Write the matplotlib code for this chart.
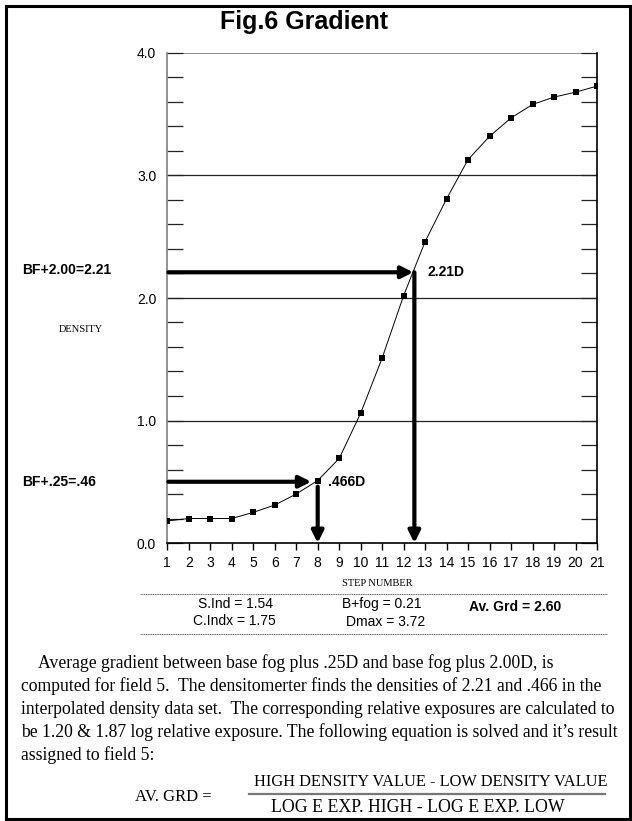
import matplotlib
matplotlib.use("Agg")
import matplotlib.pyplot as plt
from matplotlib.lines import Line2D

# ---------------- data ----------------
steps = list(range(1, 22))
density = [0.18, 0.20, 0.20, 0.20, 0.25, 0.31, 0.40, 0.51, 0.69, 1.06,
           1.51, 2.02, 2.46, 2.81, 3.13, 3.32, 3.47, 3.58, 3.64, 3.68, 3.73]
x_ticks = list(range(1, 22))
y_major = [0.0, 1.0, 2.0, 3.0, 4.0]
y_labels = ["0.0", "1.0", "2.0", "3.0", "4.0"]
high_density = 2.21
high_step = 12.5
low_density = 0.50
low_step = 8.0
summary = {"S.Ind": "1.54", "C.Indx": "1.75", "B+fog": "0.21", "Dmax": "3.72", "Av. Grd": "2.60"}

W, H = 632, 821
fig = plt.figure(figsize=(W / 100, H / 100), dpi=100)

def fx(px):
    return px / W

def fy(py):
    return 1 - py / H

SANS = "Liberation Sans"
SERIF = "Liberation Serif"

# ---------------- axes ----------------
ax_l, ax_r, ax_t, ax_b = 167.3, 597.0, 53.0, 543.0
ax = fig.add_axes([fx(ax_l), fy(ax_b), (ax_r - ax_l) / W, (ax_b - ax_t) / H])
ax.set_xlim(1, 21)
ax.set_ylim(0, 4)

for v in y_major[1:4]:
    ax.axhline(v, color="#222222", lw=0.9, zorder=1)
ax.axhline(4.0, color="#777777", lw=1.2, zorder=1)

ax.spines["top"].set_visible(False)
ax.spines["left"].set_color("#888888")
ax.spines["left"].set_linewidth(1.3)
ax.spines["right"].set_color("black")
ax.spines["right"].set_linewidth(1.2)
ax.spines["bottom"].set_color("black")
ax.spines["bottom"].set_linewidth(1.2)

ax.set_yticks(y_major)
ax.set_yticklabels(y_labels, fontfamily=SANS, fontsize=10)
ax.set_yticks([i * 0.2 for i in range(21) if i % 5 != 0], minor=True)
ax.tick_params(axis="y", which="both", direction="in", length=11.5, width=0.9,
               left=True, right=True, color="#222222", pad=8)
ax.set_xticks(x_ticks)
ax.set_xticklabels([str(s) for s in x_ticks], fontfamily=SANS, fontsize=10)
ax.tick_params(axis="x", which="major", direction="out", length=5, width=1.0, pad=4)

# curve + markers
ax.plot(steps, density, color="black", lw=0.7, zorder=3,
        marker="s", markersize=4.6, markerfacecolor="black", markeredgewidth=0)

def harrow(y, x_end):
    ax.annotate("", xy=(x_end, y), xytext=(1.05, y),
                arrowprops=dict(arrowstyle="-|>,head_length=0.7,head_width=0.35",
                                lw=3.0, color="black", shrinkA=0, shrinkB=0),
                zorder=4)

def varrow(x, y_top):
    ax.annotate("", xy=(x, 0.0), xytext=(x, y_top),
                arrowprops=dict(arrowstyle="-|>,head_length=0.7,head_width=0.35",
                                lw=3.0, color="black", shrinkA=0, shrinkB=0),
                zorder=4)

harrow(high_density, high_step - 0.05)
varrow(high_step, high_density)
harrow(low_density, low_step - 0.3)
varrow(low_step, low_density - 0.04)

ax.text(high_step + 0.6, high_density, f"{high_density:.2f}D", fontfamily=SANS,
        fontweight="bold", fontsize=10, va="center", ha="left")
ax.text(low_step + 0.5, low_density, ".466D", fontfamily=SANS,
        fontweight="bold", fontsize=10, va="center", ha="left")

# ---------------- figure texts ----------------
fig.text(fx(304), fy(29), "Fig.6 Gradient", fontfamily=SANS, fontweight="bold",
         fontsize=18, ha="center", va="baseline")
fig.text(fx(22), fy(270), "BF+2.00=2.21", fontfamily=SANS, fontweight="bold",
         fontsize=10, ha="left", va="center")
fig.text(fx(22), fy(482), "BF+.25=.46", fontfamily=SANS, fontweight="bold",
         fontsize=10, ha="left", va="center")
fig.text(fx(81), fy(329), "DENSITY", fontfamily=SERIF, fontsize=7.5,
         ha="center", va="center")
fig.text(fx(377), fy(583), "STEP NUMBER", fontfamily=SERIF, fontsize=7.5,
         ha="center", va="center")

for yy in (594, 634):
    fig.add_artist(Line2D([fx(140), fx(607)], [fy(yy), fy(yy)], color="#666666",
                          lw=0.8, linestyle=(0, (1, 0.6))))

fig.text(fx(236), fy(604), f"S.Ind = {summary['S.Ind']}", fontfamily=SANS, fontsize=10,
         ha="center", va="center")
fig.text(fx(234), fy(621), f"C.Indx = {summary['C.Indx']}", fontfamily=SANS, fontsize=10,
         ha="center", va="center")
fig.text(fx(382), fy(604), f"B+fog = {summary['B+fog']}", fontfamily=SANS, fontsize=10,
         ha="center", va="center")
fig.text(fx(386), fy(622), f"Dmax = {summary['Dmax']}", fontfamily=SANS, fontsize=10,
         ha="center", va="center")
fig.text(fx(515), fy(607), f"Av. Grd = {summary['Av. Grd']}", fontfamily=SANS,
         fontweight="bold", fontsize=10, ha="center", va="center")

para = [
    (38, 663, "Average gradient between base fog plus .25D and base fog plus 2.00D, is"),
    (21, 686, "computed for field 5.  The densitomerter finds the densities of 2.21 and .466 in the"),
    (21, 709, "interpolated density data set.  The corresponding relative exposures are calculated to"),
    (21, 732, "be 1.20 & 1.87 log relative exposure. The following equation is solved and it\u2019s result"),
    (21, 755, "assigned to field 5:"),
]
for x0, y0, s in para:
    fig.text(fx(x0), fy(y0), s, fontfamily=SERIF, fontsize=12.7, ha="left", va="center")

fig.text(fx(135), fy(797), "AV. GRD =", fontfamily=SERIF, fontsize=12, ha="left", va="center")
fig.text(fx(431), fy(782), "HIGH DENSITY VALUE - LOW DENSITY VALUE", fontfamily=SERIF,
         fontsize=11.8, ha="center", va="center")
fig.add_artist(Line2D([fx(249), fx(605)], [fy(794), fy(794)], color="#777777", lw=1.6))
fig.text(fx(418), fy(807), "LOG E EXP. HIGH - LOG E EXP. LOW", fontfamily=SERIF,
         fontsize=12.8, ha="center", va="center")

# outer frame
fig.add_artist(Line2D([fx(6), fx(6)], [fy(6), fy(821)], color="black", lw=2.2))
fig.add_artist(Line2D([fx(6), fx(632)], [fy(6.5), fy(6.5)], color="black", lw=2.2))
fig.add_artist(Line2D([fx(629.5), fx(629.5)], [fy(6), fy(819)], color="black", lw=2.2))
fig.add_artist(Line2D([fx(6), fx(630)], [fy(819), fy(819)], color="black", lw=2.2))

fig.savefig("out.png", dpi=100)
